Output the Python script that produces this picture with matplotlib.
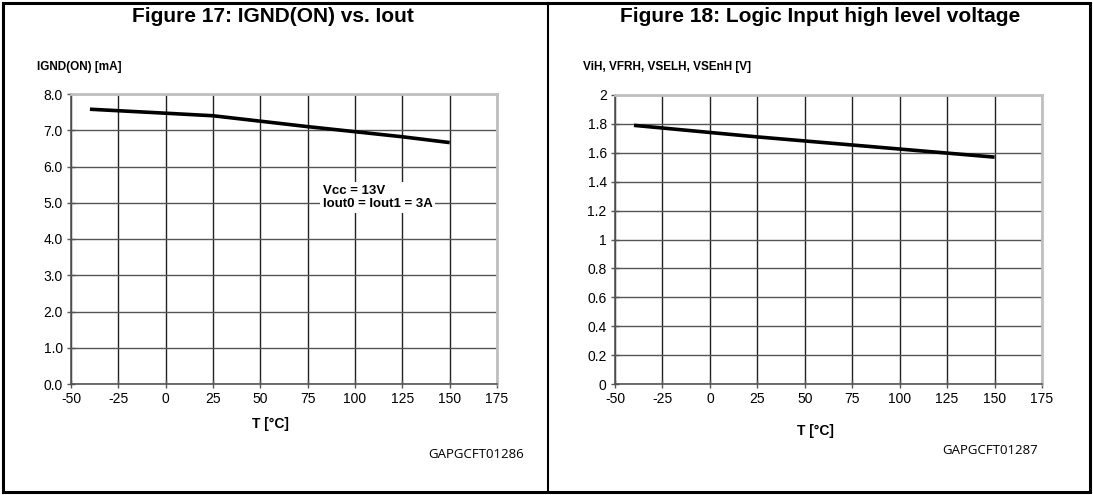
import matplotlib.pyplot as plt
from matplotlib.patches import Rectangle
from matplotlib.lines import Line2D

plt.rcParams['font.family'] = ['Liberation Sans', 'DejaVu Sans']

# Figure 17 data
t_ignd = [-40, 0, 25, 50, 75, 100, 125, 150]
ignd_on = [7.58, 7.47, 7.40, 7.25, 7.10, 6.96, 6.82, 6.66]

# Figure 18 data
t_vih = [-40, 25, 150]
vih = [1.79, 1.71, 1.57]

x_ticks = [-50, -25, 0, 25, 50, 75, 100, 125, 150, 175]
y_ticks_17 = [0, 1, 2, 3, 4, 5, 6, 7, 8]
y_ticks_18 = [0, 0.2, 0.4, 0.6, 0.8, 1, 1.2, 1.4, 1.6, 1.8, 2]

W, H = 1093, 495
fig = plt.figure(figsize=(W / 100, H / 100), dpi=100)


def px(x0, y0, x1, y1):
    # pixel box -> figure fraction [left, bottom, width, height]
    return [x0 / W, 1 - y1 / H, (x1 - x0) / W, (y1 - y0) / H]


def style_ax(ax):
    ax.set_xlim(-50, 175)
    ax.set_xticks(x_ticks)
    ax.set_xticklabels([str(v) for v in x_ticks])
    ax.xaxis.grid(True, color='#222222', linewidth=1.0)
    ax.yaxis.grid(True, color='#555555', linewidth=1.0)
    ax.set_axisbelow(True)
    for s in ['top', 'right']:
        ax.spines[s].set_color('#c0c0c0')
        ax.spines[s].set_linewidth(2)
    for s in ['left', 'bottom']:
        ax.spines[s].set_color('#555555')
        ax.spines[s].set_linewidth(1.2)
    ax.tick_params(direction='inout', length=6, width=1, color='#555555',
                   labelsize=10, pad=3)


# left chart
ax1 = fig.add_axes(px(71, 94, 497, 384))
ax1.plot(t_ignd, ignd_on, color='black', linewidth=2.6, solid_capstyle='butt')
ax1.set_ylim(0, 8)
ax1.set_yticks(y_ticks_17)
ax1.set_yticklabels(['%.1f' % v for v in y_ticks_17])
style_ax(ax1)
ax1.text(83, 5.5, 'Vcc = 13V\nIout0 = Iout1 = 3A', fontsize=9.5, fontweight='bold',
         va='top', ha='left', linespacing=1.2,
         bbox=dict(facecolor='white', edgecolor='none', pad=2))

# right chart
ax2 = fig.add_axes(px(615, 95, 1042, 384))
ax2.plot(t_vih, vih, color='black', linewidth=2.6, solid_capstyle='butt')
ax2.set_ylim(0, 2)
ax2.set_yticks(y_ticks_18)
ax2.set_yticklabels(['%g' % v for v in y_ticks_18])
style_ax(ax2)

# titles and labels
fig.text(273 / W, 1 - 17 / H, 'Figure 17: IGND(ON) vs. Iout', ha='center', va='center',
         fontsize=15, fontweight='bold')
fig.text(820 / W, 1 - 17 / H, 'Figure 18: Logic Input high level voltage', ha='center',
         va='center', fontsize=15, fontweight='bold')
fig.text(37 / W, 1 - 67 / H, 'IGND(ON) [mA]', ha='left', va='center', fontsize=8.5,
         fontweight='bold')
fig.text(583 / W, 1 - 67 / H, 'ViH, VFRH, VSELH, VSEnH [V]', ha='left', va='center',
         fontsize=8.5, fontweight='bold')
fig.text(270 / W, 1 - 424 / H, 'T [°C]', ha='center', va='center', fontsize=10,
         fontweight='bold')
fig.text(815 / W, 1 - 431 / H, 'T [°C]', ha='center', va='center', fontsize=10,
         fontweight='bold')
fig.text(476 / W, 1 - 455 / H, 'GAPGCFT01286', ha='center', va='center', fontsize=9.5,
         family=['Open Sans', 'DejaVu Sans'])
fig.text(990 / W, 1 - 450 / H, 'GAPGCFT01287', ha='center', va='center', fontsize=9.5,
         family=['Open Sans', 'DejaVu Sans'])

# frame around both panels
fig.patches.append(Rectangle((3 / W, 3 / H), (1090 - 3) / W, (492 - 3) / H,
                             transform=fig.transFigure, fill=False,
                             edgecolor='black', linewidth=2.2))
fig.lines.append(Line2D([548 / W, 548 / W], [3 / H, 1 - 3 / H],
                        transform=fig.transFigure, color='black', linewidth=1.5))

fig.savefig('out.png', dpi=100)
